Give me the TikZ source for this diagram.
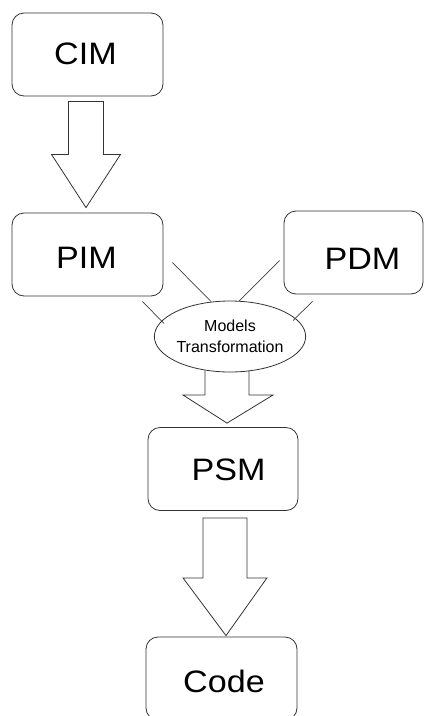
\documentclass[tikz,border=0pt]{standalone}
\usepackage{fontspec}
\setmainfont{Liberation Sans}
\newfontfamily\bigfont[FakeStretch=1.1]{Liberation Sans}
\usetikzlibrary{calc,shapes.geometric}
\tikzset{
  box/.style={draw=black!80, line width=0.8pt, rounded corners=12pt, minimum width=151pt, minimum height=83pt, inner sep=0pt},
  biglabel/.style={font=\bigfont\fontsize{31}{36}\selectfont, text=black, inner sep=0pt},
  oval/.style={draw=black!80, line width=0.8pt, ellipse, minimum width=140pt, minimum height=71pt, inner sep=0pt,
    font=\fontsize{16}{20.7}\selectfont, align=center},
  blk/.style={draw=black!80, line width=0.8pt, line join=miter},
  link/.style={draw=black!75, line width=0.7pt},
}
\begin{document}
\begin{tikzpicture}[x=1pt,y=-1pt]
\useasboundingbox (0,0) rectangle (425,716);
\clip (0,0) rectangle (425,716);
% boxes
\node[box] (cim) at (87.5,54.5) {};
\node[biglabel] (cimt) at (85.5,54) {CIM};
\node[box] (pim) at (87.5,254.5) {};
\node[biglabel] (pimt) at (86.5,258) {PIM};
\node[box, minimum width=139pt] (pdm) at (353.5,252.5) {};
\node[biglabel] (pdmt) at (362.5,258.5) {PDM};
\node[box, minimum width=150pt] (psm) at (223,469) {};
\node[biglabel] (psmt) at (228.5,469.5) {PSM};
\node[box, minimum width=151pt] (code) at (221.5,678.5) {};
\node[biglabel] (codet) at (224,681.5) {Code};
% ellipse
\node[oval] (mt) at (230,336.5) {Models\\Transformation};
% links
\coordinate (l1) at ($(pim.east)+(9,8)$);
\coordinate (l2) at ($(pdm.west)+(-4,8)$);
\coordinate (l3) at ($(pim.south east)+(-21,5)$);
\coordinate (l4) at ($(pdm.south west)+(29,7)$);
\draw[link] (l1) -- ($(mt.center)+(-19,-35)$);
\draw[link] (l2) -- ($(mt.center)+(9,-35.5)$);
\draw[link] (l3) -- ($(mt.center)+(-66,-13)$);
\draw[link] (l4) -- ($(mt.center)+(63,-16)$);
% block arrow CIM -> PIM
\draw[blk] ($(cim.south)+(-19,5)$) -- ($(cim.south)+(16,5)$) -- ($(cim.south)+(16,58)$)
  -- ($(cim.south)+(33,58)$) -- ($(pim.north)+(-1.5,-5)$) -- ($(cim.south)+(-36,58)$)
  -- ($(cim.south)+(-19,58)$) -- cycle;
% block arrow Models Transformation -> PSM
\draw[blk] ($(mt.center)+(-25,34)$) -- ($(mt.center)+(-25,58.5)$) -- ($(mt.center)+(-47,58.5)$)
  -- ($(psm.north)+(4,-4)$) -- ($(mt.center)+(43,58.5)$) -- ($(mt.center)+(19,58.5)$)
  -- ($(mt.center)+(19,34)$);
% block arrow PSM -> Code
\draw[blk] ($(psm.south)+(-20,7)$) -- ($(psm.south)+(24,7)$) -- ($(psm.south)+(24,67)$)
  -- ($(psm.south)+(44,67)$) -- ($(code.north)+(4.5,-1)$) -- ($(psm.south)+(-40,67)$)
  -- ($(psm.south)+(-20,67)$) -- cycle;
\end{tikzpicture}
\end{document}
